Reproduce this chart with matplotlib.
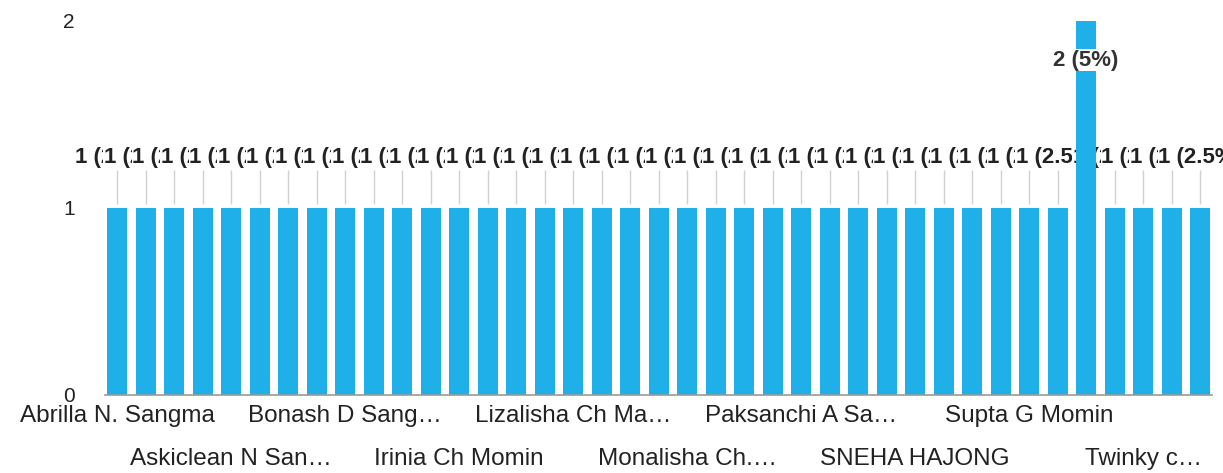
import matplotlib
matplotlib.use('Agg')
from matplotlib import pyplot as plt

# responses per person (39 bars, one person answered twice)
counts = [1, 1, 1, 1, 1, 1, 1, 1, 1, 1,
          1, 1, 1, 1, 1, 1, 1, 1, 1, 1,
          1, 1, 1, 1, 1, 1, 1, 1, 1, 1,
          1, 1, 1, 1, 2, 1, 1, 1, 1]

# only every 4th category name is printed on the axis
shown_names = ['Abrilla N. Sangma', 'Askiclean N San…', 'Bonash D Sang…',
               'Irinia Ch Momin', 'Lizalisha Ch Ma…', 'Monalisha Ch.…',
               'Paksanchi A Sa…', 'SNEHA HAJONG', 'Supta G Momin', 'Twinky c…']
shown_at = [0, 4, 8, 12, 16, 20, 24, 28, 32, 36]

y_ticks = [0, 1, 2]

plt.rcParams['font.family'] = ['Liberation Sans', 'DejaVu Sans']

bar_color = '#1fb0ea'
text_color = '#222222'

fig = plt.figure(figsize=(12.23, 4.73), dpi=100)
ax = fig.add_axes([0.086, 0.165, 0.905, 0.791])

x = list(range(len(counts)))
ax.bar(x, counts, width=0.7, color=bar_color, zorder=5)

total = sum(counts)
ymax = 2
for i, v in enumerate(counts):
    lab = '%d (%g%%)' % (v, v / total * 100)
    if v + 0.3 < ymax:
        ax.vlines(i, v + 0.02, v + 0.2, color='#d0d0d0', lw=1, zorder=2)
        ax.text(i, v + 0.27, lab, ha='center', va='center', fontsize=16,
                fontweight='bold', color=text_color, zorder=3 + i * 0.01,
                bbox=dict(facecolor='white', edgecolor='none', pad=0.3))
    else:
        # no room above, label sits inside the bar
        ax.text(i, v - 0.21, lab, ha='center', va='center', fontsize=16,
                fontweight='bold', color='#333333', zorder=8,
                bbox=dict(facecolor='white', edgecolor='none', pad=0.5))

ax.set_xlim(-0.42, len(counts) - 1 + 0.42)
ax.set_ylim(0, ymax)
ax.set_yticks(y_ticks)
ax.set_yticklabels([str(t) for t in y_ticks])
ax.tick_params(axis='y', length=0, pad=22, labelsize=15, labelcolor=text_color)

# staggered names: first row on major ticks, second row on minor ticks
row1 = [p for k, p in enumerate(shown_at) if k % 2 == 0]
row2 = [p for k, p in enumerate(shown_at) if k % 2 == 1]
ax.set_xticks(row1, [n for k, n in enumerate(shown_names) if k % 2 == 0])
ax.set_xticks(row2, [n for k, n in enumerate(shown_names) if k % 2 == 1], minor=True)
ax.tick_params(axis='x', which='major', length=0, pad=7, labelsize=17.5, labelcolor=text_color)
ax.tick_params(axis='x', which='minor', length=0, pad=38, labelsize=17.5, labelcolor=text_color)

for s in ['top', 'right', 'left']:
    ax.spines[s].set_visible(False)
ax.spines['bottom'].set_color('#9a9a9a')
ax.spines['bottom'].set_linewidth(1.2)
ax.spines['bottom'].set_zorder(6)

fig.savefig('out.png', dpi=100)
